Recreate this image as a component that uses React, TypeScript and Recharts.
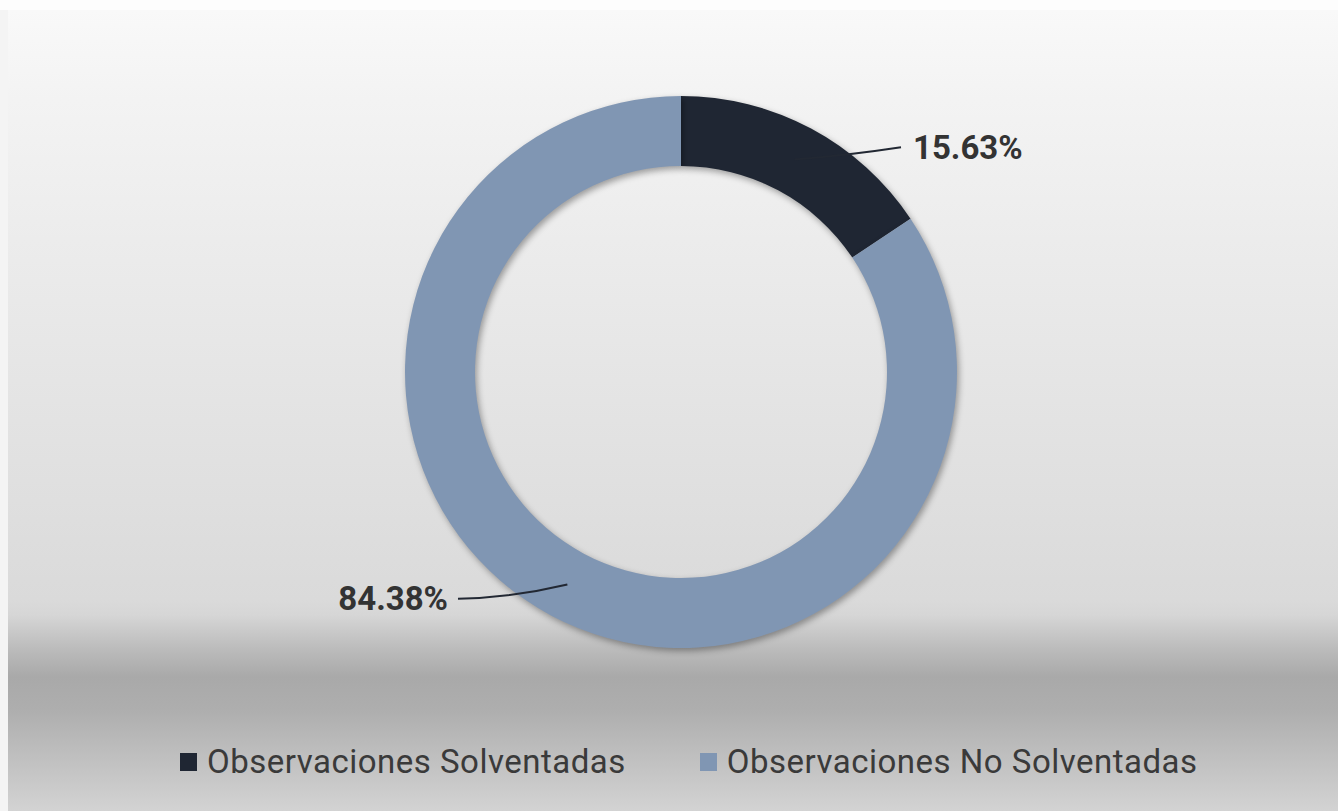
import { Cell, Legend, Pie, PieChart } from "recharts";

const categories = ["Observaciones Solventadas", "Observaciones No Solventadas"];
const values = [15.63, 84.38];
const colors = ["#1f2633", "#8096b3"];

const data = categories.map((name, i) => ({ name, value: values[i] }));

const RAD = Math.PI / 180;

function renderLabel(props: any) {
  const { cx, cy, midAngle, innerRadius, outerRadius, value } = props;
  const mid = (innerRadius + outerRadius) / 2;
  const cos = Math.cos(-midAngle * RAD);
  const sin = Math.sin(-midAngle * RAD);
  const sx = cx + mid * cos;
  const sy = cy + mid * sin;
  const right = cos >= 0;
  const ex = cx + (right ? 220 : -223);
  const ey = cy + (outerRadius - 20) * sin + (right ? 1 : 1);
  const tx = right ? ex + 12 : ex - 10;
  return (
    <g>
      <path
        d={`M${sx},${sy} Q${(sx + ex) / 2},${(sy + ey) / 2 + (right ? 2 : 6)} ${ex},${ey}`}
        stroke="#222833"
        strokeWidth={2}
        fill="none"
      />
      <text
        x={tx}
        y={ey}
        dy="0.35em"
        textAnchor={right ? "start" : "end"}
        fill="#333333"
        fontFamily="Roboto, sans-serif"
        fontWeight={700}
        fontSize={33}
      >
        {value.toFixed(2)}%
      </text>
    </g>
  );
}

function LegendContent() {
  return (
    <div
      style={{
        display: "flex",
        justifyContent: "flex-start",
        alignItems: "center",
        paddingLeft: 180,
        fontFamily: "Roboto, sans-serif",
        fontSize: 33,
        letterSpacing: 0.5,
        color: "#3a3a3a",
        gap: 74,
      }}
    >
      {categories.map((c, i) => (
        <div key={c} style={{ display: "flex", alignItems: "center" }}>
          <span
            style={{
              display: "inline-block",
              width: 17,
              height: 18,
              background: colors[i],
              marginRight: 10,
            }}
          />
          <span>{c}</span>
        </div>
      ))}
    </div>
  );
}

export default function App() {
  return (
    <div
      style={{
        position: "absolute",
        left: 0,
        top: 0,
        width: 1338,
        height: 811,
        background: "#f4f4f4",
        overflow: "hidden",
      }}
    >
      <style>{`.recharts-pie-sector path { filter: drop-shadow(2px 3px 3px rgba(0,0,0,0.35)); }`}</style>
      <div style={{ position: "absolute", left: 0, top: 0, width: 1338, height: 10, background: "#fdfdfd" }} />
      <div
        style={{
          position: "absolute",
          left: 8,
          top: 10,
          width: 1330,
          height: 801,
          background:
            "linear-gradient(to bottom, #f9f9f9 0px, #f3f3f3 90px, #dadada 590px, #d6d6d6 605px, #bcbcbc 638px, #a9a9a9 667px, #aeaeae 700px, #c4c4c4 760px, #d3d3d3 801px)",
        }}
      />
      <div style={{ position: "absolute", left: 0, top: 0 }}>
        <PieChart width={1338} height={811}>
          <Pie
            data={data}
            dataKey="value"
            nameKey="name"
            cx={676}
            cy={367}
            innerRadius={206}
            outerRadius={276}
            startAngle={90}
            endAngle={-270}
            stroke="none"
            label={renderLabel}
            labelLine={false}
            isAnimationActive={false}
          >
            {data.map((d, i) => (
              <Cell key={d.name} fill={colors[i]} />
            ))}
          </Pie>
          <Legend
            content={<LegendContent />}
            wrapperStyle={{ position: "absolute", left: 0, top: 742, width: 1338 }}
          />
        </PieChart>
      </div>
    </div>
  );
}
